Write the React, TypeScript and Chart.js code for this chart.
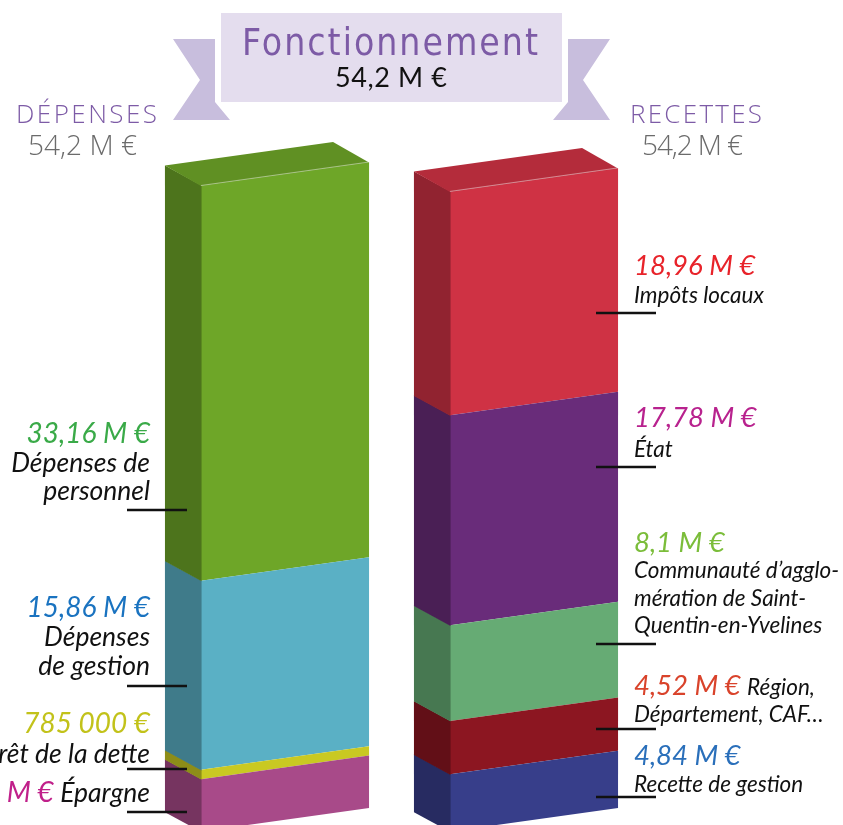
import React, { useEffect, useRef } from "react";
import { Chart, registerables } from "chart.js";

Chart.register(...registerables);

// ---------------- data ----------------
const categories = ["Dépenses", "Recettes"];
const sectionTitle = "Fonctionnement";
const sectionTotalText = "54,2 M €";
const depensesTotalText = "54,2 M €";
const recettesTotalText = "54,2 M €";
const depensesMax = 54.2;
const recettesMax = 54.7;

// bottom -> top
const depensesNames = ["Épargne", "Intérêt de la dette", "Dépenses de gestion", "Dépenses de personnel"];
const depensesValues = [4.395, 0.785, 15.86, 33.16];
const depensesValueLabels = ["4,4 M €", "785 000 €", "15,86 M €", "33,16 M €"];

const recettesNames = [
  "Recette de gestion",
  "Région, Département, CAF…",
  "Communauté d’agglomération de Saint-Quentin-en-Yvelines",
  "État",
  "Impôts locaux",
];
const recettesValues = [4.84, 4.52, 8.1, 17.78, 18.96];
const recettesValueLabels = ["4,84 M €", "4,52 M €", "8,1 M €", "17,78 M €", "18,96 M €"];

// ---------------- styles ----------------
const depensesColors = ["#a84a89", "#c9c922", "#5ab0c5", "#6ea628"];
const depensesTextColors = ["#c0208a", "#c2c21a", "#1a73c0", "#3aaa48"];
const recettesColors = ["#373e8a", "#8c1621", "#66ab74", "#692c7a", "#cf3244"];
const recettesTextColors = ["#2a6fba", "#d9432b", "#7bbd3a", "#b8228e", "#e8232a"];

const PURPLE = "#7d5ba6";
const GREY = "#6b6b6b";
const LABEL_FONT = "Lato, 'Open Sans', sans-serif";

// label layout (text positions for the annotations)
const depensesLayout = [
  { inline: "Épargne", lines: [] as string[], valueY: 802, firstY: 0, lh: 0, lineY: 812 },
  { inline: "", lines: ["Intérêt de la dette"], valueY: 733, firstY: 763, lh: 0, lineY: 769 },
  { inline: "", lines: ["Dépenses", "de gestion"], valueY: 617, firstY: 646, lh: 29, lineY: 686 },
  { inline: "", lines: ["Dépenses de", "personnel"], valueY: 443, firstY: 472, lh: 28, lineY: 510 },
];
const recettesLayout = [
  { inline: "", lines: ["Recette de gestion"], valueY: 765, firstY: 792, lh: 0, lineY: 797 },
  { inline: "Région,", lines: ["Département, CAF…"], valueY: 695, firstY: 722, lh: 0, lineY: 729 },
  {
    inline: "",
    lines: ["Communauté d’agglo-", "mération de Saint-", "Quentin-en-Yvelines"],
    valueY: 552,
    firstY: 578,
    lh: 27.5,
    lineY: 644,
  },
  { inline: "", lines: ["État"], valueY: 427, firstY: 457, lh: 0, lineY: 467 },
  { inline: "", lines: ["Impôts locaux"], valueY: 275, firstY: 303, lh: 0, lineY: 313 },
];

const SKEW = 0.14;
const DEPTH = { x: -36, y: -20 };

function shade(hex: string, f: number) {
  const n = parseInt(hex.slice(1), 16);
  const r = Math.round(((n >> 16) & 255) * f);
  const g = Math.round(((n >> 8) & 255) * f);
  const b = Math.round((n & 255) * f);
  return `rgb(${r},${g},${b})`;
}

const datasets: any[] = [
  ...depensesValues.map((v, i) => ({
    label: depensesNames[i],
    data: [v, null],
    backgroundColor: depensesColors[i],
    yAxisID: "yD",
    clip: false,
    cat: 0,
    isTop: i === depensesValues.length - 1,
  })),
  ...recettesValues.map((v, i) => ({
    label: recettesNames[i],
    data: [null, v],
    backgroundColor: recettesColors[i],
    yAxisID: "yR",
    clip: false,
    cat: 1,
    isTop: i === recettesValues.length - 1,
  })),
];

const prismPlugin = {
  id: "prism3d",
  beforeDatasetDraw(chart: any, args: any) {
    const ds = chart.data.datasets[args.index];
    const el = args.meta.data[ds.cat];
    const ctx = chart.ctx;
    ctx.save();
    if (el) {
      const xR = el.x + el.width / 2;
      ctx.transform(1, -SKEW, 0, 1, 0, SKEW * xR);
    }
  },
  afterDatasetDraw(chart: any) {
    chart.ctx.restore();
  },
  afterDatasetsDraw(chart: any) {
    const ctx = chart.ctx;
    chart.data.datasets.forEach((ds: any, i: number) => {
      const meta = chart.getDatasetMeta(i);
      const el = meta.data[ds.cat];
      if (!el) return;
      const { x, y, base, width } = el.getProps(["x", "y", "base", "width"], true);
      const xL = x - width / 2;
      const xR = x + width / 2;
      const drop = SKEW * width;
      const color = ds.backgroundColor as string;
      // side face
      ctx.save();
      ctx.beginPath();
      ctx.moveTo(xL + 0.6, y + drop);
      ctx.lineTo(xL + DEPTH.x, y + drop + DEPTH.y);
      ctx.lineTo(xL + DEPTH.x, base + drop + DEPTH.y + 0.6);
      ctx.lineTo(xL + 0.6, base + drop + 0.6);
      ctx.closePath();
      ctx.fillStyle = shade(color, 0.7);
      ctx.fill();
      if (ds.isTop) {
        ctx.beginPath();
        ctx.moveTo(xL, y + drop + 0.5);
        ctx.lineTo(xR, y + 0.5);
        ctx.lineTo(xR + DEPTH.x, y + DEPTH.y);
        ctx.lineTo(xL + DEPTH.x, y + drop + DEPTH.y);
        ctx.closePath();
        ctx.fillStyle = shade(color, 0.87);
        ctx.fill();
        ctx.beginPath();
        ctx.moveTo(xL, y + drop);
        ctx.lineTo(xR, y);
        ctx.strokeStyle = "rgba(255,255,255,0.45)";
        ctx.lineWidth = 1;
        ctx.stroke();
      }
      ctx.restore();
    });
  },
};

function fitText(ctx: CanvasRenderingContext2D, text: string, x: number, y: number, width: number) {
  (ctx as any).letterSpacing = "0px";
  ctx.textAlign = "left";
  const w = ctx.measureText(text).width;
  const n = Array.from(text).length;
  const ls = n > 1 ? (width - w) / (n - 1) : 0;
  (ctx as any).letterSpacing = ls + "px";
  ctx.fillText(text, x, y);
  (ctx as any).letterSpacing = "0px";
}

const annotationPlugin = {
  id: "annotations",
  afterDraw(chart: any) {
    const ctx: CanvasRenderingContext2D = chart.ctx;
    ctx.save();
    ctx.textBaseline = "alphabetic";

    // ribbon tails
    ctx.fillStyle = "#c8bedd";
    ctx.beginPath();
    ctx.moveTo(173, 39);
    ctx.lineTo(215, 39);
    ctx.lineTo(215, 102);
    ctx.lineTo(230, 120);
    ctx.lineTo(173, 120);
    ctx.lineTo(200, 80);
    ctx.closePath();
    ctx.fill();
    ctx.beginPath();
    ctx.moveTo(568, 39);
    ctx.lineTo(610, 39);
    ctx.lineTo(583, 80);
    ctx.lineTo(610, 120);
    ctx.lineTo(553, 120);
    ctx.lineTo(568, 102);
    ctx.closePath();
    ctx.fill();
    // banner
    ctx.fillStyle = "#e4ddee";
    ctx.fillRect(221, 13, 341, 89);

    ctx.fillStyle = PURPLE;
    ctx.font = "37px 'DejaVu Sans Condensed', 'DejaVu Sans', sans-serif";
    fitText(ctx, sectionTitle, 242, 55, 296);
    ctx.fillStyle = "#111";
    ctx.font = `27px ${LABEL_FONT}`;
    fitText(ctx, sectionTotalText, 335, 87, 112);

    ctx.fillStyle = PURPLE;
    ctx.font = `300 26px 'Open Sans', ${LABEL_FONT}`;
    fitText(ctx, categories[0].toUpperCase(), 16, 123, 141);
    fitText(ctx, categories[1].toUpperCase(), 630, 123, 132);
    ctx.fillStyle = GREY;
    ctx.font = `300 28px 'Open Sans', ${LABEL_FONT}`;
    fitText(ctx, depensesTotalText, 28, 155, 109);
    fitText(ctx, recettesTotalText, 642, 155, 101);

    // left labels (right aligned)
    const LX = 150;
    const lValFont = `italic 28px ${LABEL_FONT}`;
    const lLabFont = `italic 26.5px ${LABEL_FONT}`;
    depensesLayout.forEach((lay, i) => {
      if (lay.inline) {
        ctx.font = lValFont;
        const v = depensesValueLabels[i] + " ";
        const w1 = ctx.measureText(v).width;
        ctx.font = lLabFont;
        const w2 = ctx.measureText(lay.inline).width;
        ctx.textAlign = "left";
        ctx.font = lValFont;
        ctx.fillStyle = depensesTextColors[i];
        ctx.fillText(v, LX - w1 - w2, lay.valueY);
        ctx.font = lLabFont;
        ctx.fillStyle = "#111";
        ctx.fillText(lay.inline, LX - w2, lay.valueY);
      } else {
        ctx.textAlign = "right";
        ctx.font = lValFont;
        ctx.fillStyle = depensesTextColors[i];
        ctx.fillText(depensesValueLabels[i], LX, lay.valueY);
      }
      ctx.textAlign = "right";
      ctx.font = lLabFont;
      ctx.fillStyle = "#111";
      lay.lines.forEach((t, k) => ctx.fillText(t, LX, lay.firstY + k * lay.lh));
      ctx.beginPath();
      ctx.moveTo(127, lay.lineY);
      ctx.lineTo(187, lay.lineY);
      ctx.strokeStyle = "#111";
      ctx.lineWidth = 2.5;
      ctx.stroke();
    });

    // right labels (left aligned)
    const RX = 634;
    const rValFont = `italic 27.5px ${LABEL_FONT}`;
    const rLabFont = `italic 22.5px ${LABEL_FONT}`;
    recettesLayout.forEach((lay, i) => {
      ctx.textAlign = "left";
      ctx.font = rValFont;
      ctx.fillStyle = recettesTextColors[i];
      const v = recettesValueLabels[i];
      ctx.fillText(v, RX, lay.valueY);
      if (lay.inline) {
        const w1 = ctx.measureText(v + " ").width;
        ctx.font = rLabFont;
        ctx.fillStyle = "#111";
        ctx.fillText(lay.inline, RX + w1, lay.valueY);
      }
      ctx.font = rLabFont;
      ctx.fillStyle = "#111";
      lay.lines.forEach((t, k) => ctx.fillText(t, RX, lay.firstY + k * lay.lh));
      ctx.beginPath();
      ctx.moveTo(596, lay.lineY);
      ctx.lineTo(656, lay.lineY);
      ctx.strokeStyle = "#111";
      ctx.lineWidth = 2.5;
      ctx.stroke();
    });
    ctx.restore();
  },
};

export default function App() {
  const ref = useRef<HTMLCanvasElement>(null);
  useEffect(() => {
    const canvas = ref.current;
    if (!canvas) return;
    const chart = new Chart(canvas, {
      type: "bar",
      data: { labels: categories, datasets },
      options: {
        responsive: false,
        animation: false,
        events: [],
        layout: { padding: { left: 160.5, right: 184.5, top: 162, bottom: 17 } },
        datasets: { bar: { categoryPercentage: 1, barPercentage: 0.675, borderWidth: 0 } },
        plugins: {
          legend: { display: false },
          tooltip: { enabled: false },
          title: { display: false },
        },
        scales: {
          x: { display: false, stacked: true },
          yD: { display: false, stacked: true, min: 0, max: depensesMax, position: "left" },
          yR: { display: false, stacked: true, min: 0, max: recettesMax, position: "right" },
        },
      } as any,
      plugins: [prismPlugin, annotationPlugin],
    });
    return () => chart.destroy();
  }, []);
  return (
    <div style={{ position: "absolute", left: 0, top: 0, width: 843, height: 825, background: "#fff", overflow: "hidden" }}>
      <canvas ref={ref} width={843} height={825} style={{ display: "block" }} />
    </div>
  );
}
